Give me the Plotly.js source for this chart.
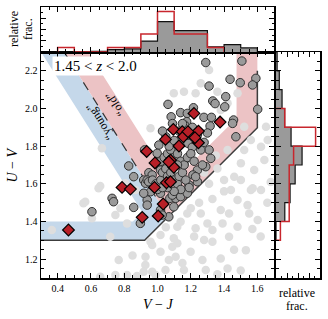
<!DOCTYPE html>
<html><head><meta charset="utf-8">
<script src="https://cdn.plot.ly/plotly-3.0.1.min.js"></script>
<style>html,body{margin:0;padding:0;background:#fff}#c{width:328px;height:319px}</style>
</head><body><div id="c"></div>
<script>
// ---- data ----
const lightX=[0.365,0.555,0.656,0.747,0.716,0.817,0.767,0.656,0.747,0.817,0.877,0.927,0.988,1.018,1.068,0.968,0.666,0.807,0.938,0.646,0.566,0.606,0.867,0.958,0.777,1.119,0.928,0.958,1.018,1.098,1.119,1.139,1.229,1.260,1.300,1.330,1.391,1.430,1.380,1.541,1.561,1.572,1.602,1.622,1.531,1.421,1.380,1.270,1.290,1.159,1.330,1.280,1.089,1.109,1.199,1.048,1.179,1.441,1.481,1.501,1.551,1.481,1.430,0.917,0.968,1.260,1.229,1.159,1.360,1.421,1.380,1.652,1.662,1.622,1.561,1.521,1.501,1.642,1.581,1.461,1.400,1.360,1.421,1.521,1.098,1.310,1.481,1.350,1.400,1.330,1.250,1.200,1.620,1.570,1.660,1.680,1.460,1.360,1.500,1.220,1.150,0.850,1.050,1.310,1.280];
const lightY=[1.355,1.497,1.588,1.434,1.319,1.390,1.195,1.107,1.116,1.116,1.110,1.169,1.116,1.239,1.195,1.275,1.789,1.603,1.780,1.576,1.505,1.417,1.567,1.895,1.470,1.372,1.213,1.293,1.328,1.311,1.284,1.399,1.364,1.443,1.390,1.355,1.390,1.443,1.461,1.487,1.567,1.576,1.408,1.567,1.248,1.151,1.204,1.195,1.142,1.142,1.293,1.302,1.266,1.213,1.239,1.142,1.443,1.567,1.514,1.620,1.443,1.372,1.319,1.133,1.133,2.134,2.081,2.089,2.089,2.028,1.992,1.903,1.833,1.797,1.833,1.780,1.709,1.726,1.673,1.638,1.620,1.682,1.780,1.903,2.081,2.204,2.081,1.750,1.560,1.520,1.500,1.470,1.320,1.360,1.500,1.610,1.250,1.120,1.140,1.320,1.180,1.220,1.370,1.600,1.660];

const quiesX=[1.290,1.507,1.436,1.497,1.591,1.571,1.310,1.410,1.332,1.346,1.404,1.602,1.063,1.216,1.139,1.179,1.082,1.279,1.324,1.457,1.451,1.175,1.163,1.316,1.471,1.183,1.209,1.310,1.320,1.290,1.240,1.213,1.159,1.008,0.998,0.922,1.008,1.018,0.948,0.968,0.917,0.827,0.928,0.958,1.018,1.074,1.109,0.727,0.736,0.857,0.938,0.938,0.606,1.098,1.139,1.068,0.857,0.938,0.897,0.917,1.089,1.179,1.240,1.229,1.270,0.947,1.189,1.018,1.028,0.97,0.99,1.00,1.02,1.03,1.05,1.06,1.08,1.10,1.12,1.13,1.15,1.17,1.19,1.14,1.10,1.06,1.03,1.02,1.04,1.06,1.08,1.10,1.12,1.14,1.16,1.18,1.20,1.22,1.12,1.07,1.05,1.10,1.13,1.15,1.19,1.21,1.24,1.26,1.28,1.30,1.09,1.03];
const quiesY=[2.244,2.252,2.155,2.137,2.160,2.125,2.119,2.063,2.040,2.026,2.009,1.996,2.022,2.004,1.978,1.974,1.956,1.953,1.953,1.939,1.921,1.930,1.912,1.907,1.850,1.815,1.794,1.780,1.735,1.691,1.673,1.647,1.709,1.806,1.762,1.780,1.700,1.673,1.659,1.647,1.620,1.695,1.603,1.558,1.550,1.523,1.523,1.523,1.505,1.475,1.514,1.487,1.452,1.478,1.532,1.425,1.638,1.620,1.390,1.550,1.540,1.550,1.611,1.638,1.700,1.611,1.594,1.461,1.434,1.62,1.60,1.57,1.62,1.66,1.68,1.64,1.66,1.62,1.60,1.64,1.66,1.62,1.58,1.57,1.56,1.58,1.58,1.72,1.74,1.76,1.78,1.74,1.76,1.72,1.70,1.74,1.76,1.72,1.70,1.80,1.85,1.83,1.88,1.92,1.86,1.90,1.86,1.78,1.82,1.87,1.92,1.88];

const specX=[0.465,0.787,0.837,0.908,1.004,1.034,0.935,0.985,1.054,1.078,0.982,1.078,1.098,1.068,1.095,1.149,1.246,1.048,1.155,1.246,1.129,1.219,1.376,1.183,1.225];
const specY=[1.355,1.581,1.572,1.422,1.429,1.493,1.772,1.711,1.606,1.611,1.581,1.726,1.688,1.717,1.889,1.877,1.880,1.836,1.850,1.818,1.801,1.974,1.928,1.877,1.845];

// histograms (relative fraction per 0.1 bin)
const vjEdges=[0.4,0.5,0.6,0.7,0.8,0.9,1.0,1.1,1.2,1.3,1.4,1.5,1.6];
const vjAll=[0,0,0.005,0.021,0.027,0.097,0.27,0.19,0.19,0.045,0.066,0.036];
const vjSpecEdges=[0.4,0.5,0.6,0.7,0.8,0.9,1.0,1.1,1.2,1.3,1.4];
const vjSpec=[0.04,0,0,0.04,0.04,0.16,0.36,0.16,0.16,0.04];
const uvEdges=[1.3,1.4,1.5,1.6,1.7,1.8,1.9,2.0,2.1,2.2,2.3];
const uvAll=[0,0.08,0.128,0.174,0.237,0.137,0.078,0.055,0.03,0.01];
const uvSpecEdges=[1.3,1.4,1.5,1.6,1.7,1.8,1.9,2.0];
const uvSpec=[0.04,0.12,0.12,0.12,0.16,0.36,0.08];

// ---- helpers ----
function stepH(edges,vals){const x=[edges[0]],y=[0];for(let i=0;i<vals.length;i++){x.push(edges[i]);y.push(vals[i]);}x.push(edges[edges.length-1]);y.push(0);return {x,y};}
function stepV(edges,vals){const x=[0],y=[edges[0]];for(let i=0;i<vals.length;i++){x.push(vals[i]);y.push(edges[i]);}x.push(0);y.push(edges[edges.length-1]);return {x,y};}

const W=328,H=319;
const PX=p=>p/W, PY=p=>(H-p)/H;
const FONT='Liberation Serif, DejaVu Serif, serif';
const RED='#b81f27', GRAYF='#9a9a9a';

const tAll=stepH(vjEdges,vjAll), tSpec=stepH(vjSpecEdges,vjSpec);
const rAll=stepV(uvEdges,uvAll), rSpec=stepV(uvSpecEdges,uvSpec);

const traces=[
 {type:'scatter',mode:'markers',x:lightX,y:lightY,xaxis:'x',yaxis:'y',marker:{size:8.5,color:'#dedede'},hoverinfo:'skip'},
 {type:'scatter',mode:'markers',x:quiesX,y:quiesY,xaxis:'x',yaxis:'y',marker:{size:8.5,color:GRAYF,line:{color:'#303030',width:1}},hoverinfo:'skip'},
 {type:'scatter',mode:'markers',x:specX,y:specY,xaxis:'x',yaxis:'y',marker:{symbol:'diamond',size:9,color:RED,line:{color:'#000',width:1.2}},hoverinfo:'skip'},
 {type:'scatter',mode:'lines',x:tAll.x,y:tAll.y,xaxis:'x2',yaxis:'y2',line:{shape:'hv',color:'#111',width:1.2},fill:'tozeroy',fillcolor:GRAYF,hoverinfo:'skip'},
 {type:'scatter',mode:'lines',x:tSpec.x,y:tSpec.y,xaxis:'x2',yaxis:'y2',line:{shape:'hv',color:'#c8262d',width:1.5},hoverinfo:'skip'},
 {type:'scatter',mode:'lines',x:rAll.x,y:rAll.y,xaxis:'x3',yaxis:'y3',line:{shape:'vh',color:'#111',width:1.2},fill:'tozerox',fillcolor:GRAYF,hoverinfo:'skip'},
 {type:'scatter',mode:'lines',x:rSpec.x,y:rSpec.y,xaxis:'x3',yaxis:'y3',line:{shape:'vh',color:'#c8262d',width:1.5},hoverinfo:'skip'}
];

const ax=(o)=>Object.assign({showgrid:false,zeroline:false,showline:true,linecolor:'#000',linewidth:1.5,mirror:'ticks',ticks:'inside',ticklen:5,tickwidth:1,tickcolor:'#000',tickformat:'.1f',tickfont:{family:FONT,size:10,color:'#000'}},o);

const xd=[PX(41),PX(274)], yd=[PY(278),PY(52)];
const txt=(x,y,t,size,angle)=>({xref:'paper',yref:'paper',x:PX(x),y:PY(y),xanchor:'center',yanchor:'middle',showarrow:false,textangle:angle||0,text:t,font:{family:FONT,size:size,color:'#000'}});
const layout={
 width:W,height:H,margin:{l:0,r:0,t:0,b:0},paper_bgcolor:'#fff',plot_bgcolor:'#fff',showlegend:false,
 xaxis:ax({domain:xd,anchor:'y',range:[0.3,1.7],tick0:0.4,dtick:0.2,minor:{dtick:0.05,ticklen:3,ticks:'inside',tickcolor:'#000'}}),
 yaxis:ax({domain:yd,anchor:'x',range:[1.1,2.3],tick0:1.2,dtick:0.2,minor:{dtick:0.05,ticklen:3,ticks:'inside',tickcolor:'#000'}}),
 xaxis2:ax({domain:xd,anchor:'y2',range:[0.3,1.7],tick0:0.4,dtick:0.2,showticklabels:false,minor:{dtick:0.05,ticklen:3,ticks:'inside',tickcolor:'#000'}}),
 yaxis2:ax({domain:[PY(52),PY(7)],anchor:'x2',range:[0,0.4],dtick:0.1,showticklabels:false,minor:{dtick:0.05,ticklen:2,ticks:'inside',tickcolor:'#000'}}),
 xaxis3:ax({domain:[PX(276),PX(320)],anchor:'y3',range:[0,0.4],dtick:0.1,showticklabels:false,minor:{dtick:0.05,ticklen:2,ticks:'inside',tickcolor:'#000'}}),
 yaxis3:ax({domain:yd,anchor:'x3',range:[1.1,2.3],tick0:1.2,dtick:0.2,showticklabels:false,minor:{dtick:0.05,ticklen:3,ticks:'inside',tickcolor:'#000'}}),
 shapes:[
  {type:'path',xref:'x',yref:'y',layer:'below',line:{width:0},fillcolor:'#c5d8ea',
   path:'M0.3,1.3 L0.9227,1.3 L1.064,1.426 L0.439,2.3 L0.3,2.3 L0.9087,1.4496 L0.852,1.4 L0.3,1.4 Z'},
  {type:'path',xref:'x',yref:'y',layer:'below',line:{width:0},fillcolor:'#ecc3c5',
   path:'M1.064,1.426 L1.6,1.898 L1.6,2.3 L1.475,2.3 L1.475,1.948 L1.0827,1.603 L0.5836,2.3 L0.439,2.3 Z'},
  {type:'path',xref:'x',yref:'y',layer:'below',line:{color:'#333',width:1.2,dash:'dash'},
   path:'M0.439,2.3 L1.064,1.426'},
  {type:'path',xref:'x',yref:'y',layer:'below',line:{color:'#3c3c3c',width:1.5},
   path:'M0.3,1.3 L0.9227,1.3 L1.6,1.898 L1.6,2.2'}
 ],
 annotations:[
  {xref:'paper',yref:'paper',x:PX(52),y:PY(66),xanchor:'left',yanchor:'middle',showarrow:false,bgcolor:'#fff',borderpad:1,
   text:'1.45 &lt; <i>z</i> &lt; 2.0',font:{family:FONT,size:15,color:'#000'}},
  {xref:'x',yref:'y',x:0.655,y:1.928,showarrow:false,textangle:-122,text:'“young”',font:{family:FONT,size:12,color:'#000'}},
  {xref:'x',yref:'y',x:0.745,y:2.024,showarrow:false,textangle:-122,text:'“old”',font:{family:FONT,size:12,color:'#000'}},
  txt(12.5,165,'<i>U</i> − <i>V</i>',14,-90),
  txt(157.5,304,'<i>V</i> − <i>J</i>',14,0),
  txt(14,29,'relative',12,-90),
  txt(28,29,'frac.',12,-90),
  txt(297,293,'relative',12,0),
  txt(297,306,'frac.',12,0)
 ]
};
Plotly.newPlot('c',traces,layout,{staticPlot:true,displayModeBar:false});
</script></body></html>
